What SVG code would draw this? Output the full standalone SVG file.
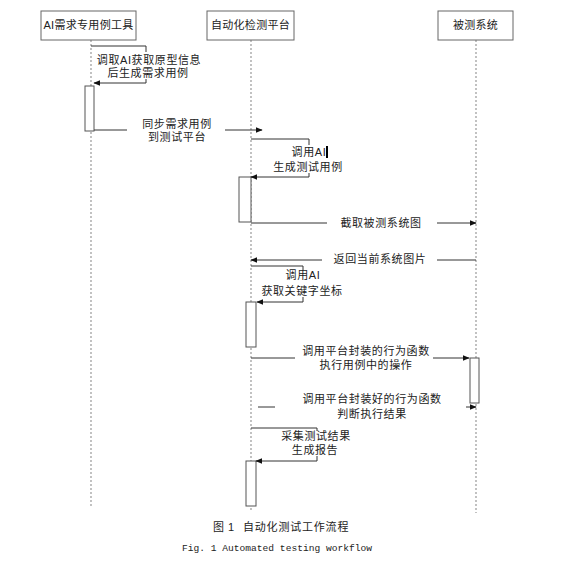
<svg xmlns="http://www.w3.org/2000/svg" width="562" height="570" viewBox="0 0 562 570">
<style>
.box{fill:#fff;stroke:#666;stroke-width:1}
.life{stroke:#999;stroke-width:1.2;stroke-dasharray:2 2;fill:none}
.msg{stroke:#333;stroke-width:1;fill:none}
.act{fill:#fff;stroke:#555;stroke-width:1}
.lbl{font-family:"Liberation Sans","Noto Sans CJK SC",sans-serif;font-size:11px;fill:#222;text-anchor:middle;letter-spacing:0.6px}
.hdr{font-family:"Liberation Sans","Noto Sans CJK SC",sans-serif;font-size:11px;fill:#222;text-anchor:middle;letter-spacing:0.3px}
.bg{fill:#fff;stroke:none}
.cap{font-family:"Liberation Sans","Noto Sans CJK SC",sans-serif;font-size:11px;fill:#222;letter-spacing:0.8px}
.capen{font-family:"Liberation Mono",monospace;font-size:9.6px;fill:#222}
</style>
<defs>
<marker id="ah" viewBox="0 0 10 10" refX="9" refY="5" markerWidth="7" markerHeight="7" orient="auto" markerUnits="userSpaceOnUse">
<path d="M0,1 L10,5 L0,9 z" fill="#111"/>
</marker>
</defs>
<rect width="562" height="570" fill="#fff"/>
<g id="lifelines">
<line class="life" x1="91" y1="40" x2="91" y2="508"/>
<line class="life" x1="251" y1="40" x2="251" y2="512"/>
<line class="life" x1="476" y1="40" x2="476" y2="513"/>
</g>
<g id="node-tool">
<rect class="box" x="41" y="11" width="95" height="29"/>
<text class="hdr" x="88.5" y="29">AI需求专用例工具</text>
</g>
<g id="node-platform">
<rect class="box" x="207" y="11" width="87" height="29"/>
<text class="hdr" x="250.5" y="29">自动化检测平台</text>
</g>
<g id="node-system">
<rect class="box" x="438" y="11" width="75" height="29"/>
<text class="hdr" x="475.5" y="29">被测系统</text>
</g>
<g id="activations">
<rect class="act" x="85" y="86" width="9" height="45"/>
<rect class="act" x="239" y="177" width="12" height="45"/>
<rect class="act" x="246" y="302" width="10" height="45"/>
<rect class="act" x="470" y="358" width="9" height="45"/>
<rect class="act" x="246" y="461" width="10" height="45"/>
</g>
<g id="connectors">
<polyline class="msg" points="91,46 146,46 146,83 94,83" marker-end="url(#ah)"/>
<line class="msg" x1="94" y1="130" x2="262" y2="130" marker-end="url(#ah)"/>
<polyline class="msg" points="251,139 309,139 309,177 251,177" marker-end="url(#ah)"/>
<line class="msg" x1="251" y1="223" x2="476" y2="223" marker-end="url(#ah)"/>
<line class="msg" x1="476" y1="260" x2="251" y2="260" marker-end="url(#ah)"/>
<polyline class="msg" points="251,266 303,266 303,302 257,302" marker-end="url(#ah)"/>
<line class="msg" x1="251" y1="358" x2="469" y2="358" marker-end="url(#ah)"/>
<line class="msg" x1="258" y1="407" x2="275" y2="407"/>
<line class="msg" x1="466" y1="407" x2="476" y2="407" marker-end="url(#ah)"/>
<polyline class="msg" points="251,428 317,428 317,461 256,461" marker-end="url(#ah)"/>
</g>
<g id="labels">
<rect class="bg" x="97" y="52" width="105" height="27"/>
<text class="lbl" x="149" y="64">调取AI获取原型信息</text>
<text class="lbl" x="148" y="77">后生成需求用例</text>
<rect class="bg" x="127" y="117" width="98" height="27"/>
<text class="lbl" x="177" y="128">同步需求用例</text>
<text class="lbl" x="177" y="141">到测试平台</text>
<rect class="bg" x="272" y="145" width="72" height="28"/>
<text class="lbl" x="309" y="156">调用AI</text>
<rect x="326" y="146" width="2" height="12" fill="#000"/>
<text class="lbl" x="308" y="171">生成测试用例</text>
<rect class="bg" x="327" y="216" width="110" height="14"/>
<text class="lbl" x="381" y="227">截取被测系统图</text>
<rect class="bg" x="322" y="252" width="115" height="14"/>
<text class="lbl" x="380" y="263">返回当前系统图片</text>
<rect class="bg" x="260" y="270" width="85" height="27"/>
<text class="lbl" x="303" y="279">调用AI</text>
<text class="lbl" x="302" y="295">获取关键字坐标</text>
<rect class="bg" x="295" y="343" width="138" height="28"/>
<text class="lbl" x="366" y="355">调用平台封装的行为函数</text>
<text class="lbl" x="366" y="369">执行用例中的操作</text>
<text class="lbl" x="372" y="403">调用平台封装好的行为函数</text>
<text class="lbl" x="372" y="418">判断执行结果</text>
<rect class="bg" x="280" y="431" width="74" height="25"/>
<text class="lbl" x="316" y="440">采集测试结果</text>
<text class="lbl" x="315" y="454">生成报告</text>
</g>
<g id="caption">
<text class="cap" y="531"><tspan x="213">图</tspan><tspan x="228">1</tspan><tspan x="243">自动化测试工作流程</tspan></text>
<text class="capen" y="551" xml:space="preserve" x="182">Fig. 1 Automated testing workflow</text>
</g>
</svg>
